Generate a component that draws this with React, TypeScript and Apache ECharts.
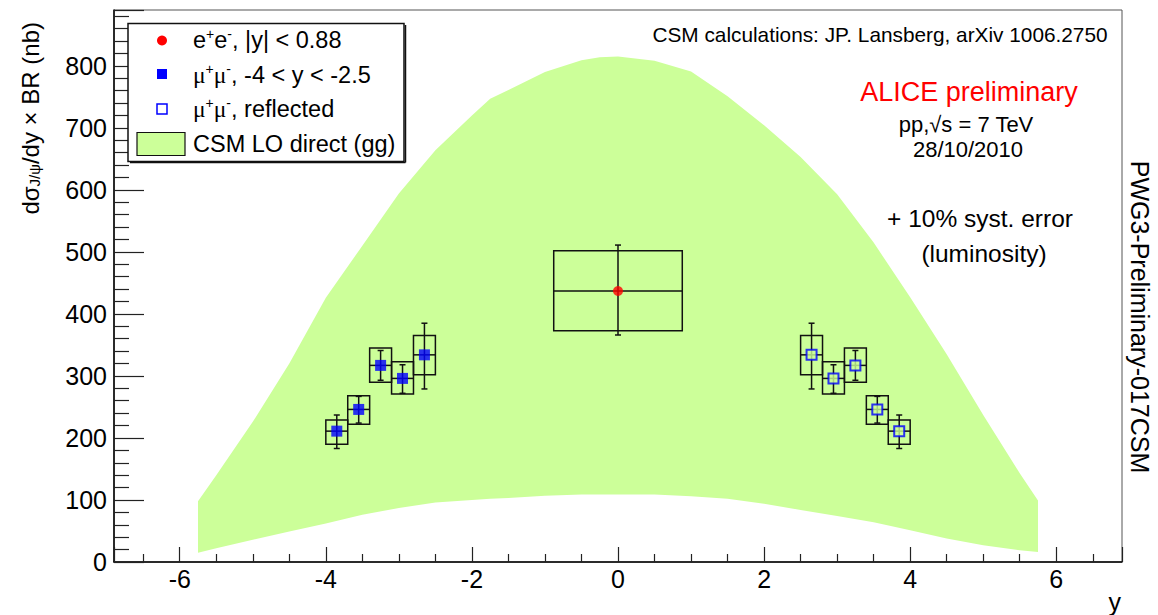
import React, { useEffect, useRef } from 'react';
import * as echarts from 'echarts';

// CSM LO direct (gg) band
const bandX = [-5.75, -5.5, -5.0, -4.5, -4.0, -3.5, -3.0, -2.5, -2.0, -1.75, -1.5, -1.0, -0.5, -0.25, 0, 0.5, 1.0, 1.5, 2.0, 2.5, 3.0, 3.5, 4.0, 4.5, 5.0, 5.5, 5.75];
const bandUpper = [98, 140, 226, 320, 426, 510, 594, 664, 720, 747, 761, 790, 809, 814, 815, 808, 791, 751, 704, 653, 593, 515, 427, 335, 237, 143, 99];
const bandLower = [15, 22, 36, 49, 62, 76, 87, 96, 100, 102, 103, 107, 109, 109, 109, 109, 106, 102, 94, 84, 74, 64, 51, 38, 27, 19, 16];

// e+e- |y|<0.88
const eeY = [0];
const eeHalfWidth = [0.88];
const eeValue = [437];
const eeStatLow = [366];
const eeStatHigh = [511];
const eeSystLow = [373];
const eeSystHigh = [502];

// mu+mu- -4<y<-2.5
const muY = [-3.85, -3.55, -3.25, -2.95, -2.65];
const muHalfWidth = [0.15, 0.15, 0.15, 0.15, 0.15];
const muValue = [211, 246, 317, 296, 334];
const muStatLow = [183, 224, 293, 272, 279];
const muStatHigh = [237, 267, 341, 318, 385];
const muSystLow = [190, 222, 290, 271, 302];
const muSystHigh = [229, 268, 345, 323, 365];

// reflected
const reflY = [3.85, 3.55, 3.25, 2.95, 2.65];

const GREEN = '#ccff99';
const FONT = '"Liberation Sans", Arial, Helvetica, sans-serif';

const rows = (xs: number[], hw: number[], v: number[], sl: number[], sh: number[], yl: number[], yh: number[]) =>
  xs.map((x, i) => [x, v[i], hw[i], sl[i], sh[i], yl[i], yh[i]]);

export default function App() {
  const ref = useRef<HTMLDivElement>(null);
  useEffect(() => {
    if (!ref.current) return;
    const chart = echarts.init(ref.current, undefined, { renderer: 'svg' });

    const renderErr = (params: any, api: any) => {
      const x = api.value(0), v = api.value(1), hw = api.value(2);
      const sl = api.value(3), sh = api.value(4), yl = api.value(5), yh = api.value(6);
      const tl = api.coord([x - hw, yh]);
      const br = api.coord([x + hw, yl]);
      const c = api.coord([x, v]);
      const st = api.coord([x, sh]);
      const sb = api.coord([x, sl]);
      const ls = { stroke: '#111', lineWidth: 1.5 };
      return {
        type: 'group',
        children: [
          { type: 'rect', shape: { x: tl[0], y: tl[1], width: br[0] - tl[0], height: br[1] - tl[1] }, style: { stroke: '#111', fill: 'none', lineWidth: 1.5 } },
          { type: 'line', shape: { x1: tl[0], y1: c[1], x2: br[0], y2: c[1] }, style: ls },
          { type: 'line', shape: { x1: c[0], y1: st[1], x2: c[0], y2: sb[1] }, style: ls },
          { type: 'line', shape: { x1: c[0] - 3, y1: st[1], x2: c[0] + 3, y2: st[1] }, style: ls },
          { type: 'line', shape: { x1: c[0] - 3, y1: sb[1], x2: c[0] + 3, y2: sb[1] }, style: ls },
        ],
      };
    };

    const txt = (text: string, x: number, y: number, size: number, extra: any = {}) => ({
      type: 'text', x, y, z: 100,
      style: { text, fontSize: size, fontFamily: FONT, fill: '#000', align: 'center', verticalAlign: 'middle', ...extra },
    });

    const supRich = {
      m: { fontSize: 23.5, fontFamily: FONT, fill: '#000', lineHeight: 27, verticalAlign: 'middle' },
      g: { fontSize: 23.5, fontFamily: '"Liberation Serif", "DejaVu Serif", serif', fill: '#000', lineHeight: 27, verticalAlign: 'middle' },
      p: { fontSize: 14, fontFamily: FONT, fill: '#000', lineHeight: 14, verticalAlign: 'top' },
    };

    const legendText = (text: string, y: number) => ({
      type: 'text', x: 193, y, z: 100,
      style: { text, rich: supRich, align: 'left', verticalAlign: 'middle', fontSize: 23.5, fontFamily: FONT, fill: '#000' },
    });

    const option: any = {
      animation: false,
      grid: { left: 114, right: 36, top: 10, bottom: 53, show: true, borderColor: '#555', borderWidth: 1 },
      xAxis: {
        type: 'value', min: -6.9, max: 6.9, splitNumber: 7, minInterval: 2, maxInterval: 2,
        axisLine: { show: true, onZero: false, lineStyle: { color: '#000', width: 1.5 } },
        axisTick: { show: true, inside: true, length: 15, lineStyle: { color: '#222', width: 1.2 } },
        minorTick: { show: true, splitNumber: 4, length: 8, lineStyle: { color: '#222', width: 1.2 } },
        splitLine: { show: false },
        axisLabel: {
          fontSize: 25, fontFamily: FONT, color: '#000', margin: 4,
          formatter: (v: number) => (Math.abs(v - Math.round(v)) < 1e-6 && Math.round(v) % 2 === 0 ? String(Math.round(v)) : ''),
        },
      },
      yAxis: {
        type: 'value', min: 0, max: 890, interval: 100,
        axisLine: { show: true, onZero: false, lineStyle: { color: '#000', width: 1.5 } },
        axisTick: { show: true, inside: true, length: 30, lineStyle: { color: '#222', width: 1.2 } },
        minorTick: { show: true, splitNumber: 5, length: 15, lineStyle: { color: '#222', width: 1.2 } },
        splitLine: { show: false },
        axisLabel: {
          fontSize: 25, fontFamily: FONT, color: '#000', margin: 7,
          formatter: (v: number) => (v % 100 === 0 ? String(v) : ''),
        },
      },
      series: [
        {
          name: 'CSM LO direct (gg)', type: 'custom', z: 1, clip: true,
          data: [[0, 400]],
          renderItem: (params: any, api: any) => {
            if (params.dataIndex !== 0) return null;
            const pts: number[][] = [];
            for (let i = 0; i < bandX.length; i++) pts.push(api.coord([bandX[i], bandUpper[i]]));
            for (let i = bandX.length - 1; i >= 0; i--) pts.push(api.coord([bandX[i], bandLower[i]]));
            return { type: 'polygon', shape: { points: pts }, style: { fill: GREEN, stroke: 'none' } };
          },
        },
        {
          name: 'ee errors', type: 'custom', z: 2, clip: true, encode: { x: 0, y: 1 },
          data: rows(eeY, eeHalfWidth, eeValue, eeStatLow, eeStatHigh, eeSystLow, eeSystHigh),
          renderItem: renderErr,
        },
        {
          name: 'mumu errors', type: 'custom', z: 2, clip: true, encode: { x: 0, y: 1 },
          data: rows(muY, muHalfWidth, muValue, muStatLow, muStatHigh, muSystLow, muSystHigh),
          renderItem: renderErr,
        },
        {
          name: 'reflected errors', type: 'custom', z: 2, clip: true, encode: { x: 0, y: 1 },
          data: rows(reflY, muHalfWidth, muValue, muStatLow, muStatHigh, muSystLow, muSystHigh),
          renderItem: renderErr,
        },
        {
          name: 'e+e-, |y| < 0.88', type: 'scatter', z: 3, symbol: 'circle', symbolSize: 10,
          itemStyle: { color: '#ff0000' },
          data: eeY.map((x, i) => [x, eeValue[i]]),
        },
        {
          name: 'mu+mu-, -4 < y < -2.5', type: 'scatter', z: 3, symbol: 'rect', symbolSize: 11,
          itemStyle: { color: '#0000ff' },
          data: muY.map((x, i) => [x, muValue[i]]),
        },
        {
          name: 'mu+mu-, reflected', type: 'scatter', z: 3, symbol: 'rect', symbolSize: 10,
          itemStyle: { color: GREEN, borderColor: '#0000ff', borderWidth: 2 },
          data: reflY.map((x, i) => [x, muValue[i]]),
        },
      ],
      graphic: [
        // legend
        { type: 'rect', z: 90, shape: { x: 128, y: 23.5, width: 276, height: 138 }, style: { fill: '#fff', stroke: '#111', lineWidth: 1.5 } },
        { type: 'line', z: 90, shape: { x1: 405.5, y1: 25, x2: 405.5, y2: 162.5 }, style: { stroke: '#111', lineWidth: 1.5 } },
        { type: 'line', z: 90, shape: { x1: 130, y1: 162.5, x2: 405.5, y2: 162.5 }, style: { stroke: '#111', lineWidth: 1.5 } },
        { type: 'circle', z: 100, shape: { cx: 162, cy: 40.5, r: 5 }, style: { fill: '#ff0000' } },
        { type: 'rect', z: 100, shape: { x: 157, y: 69, width: 10, height: 10 }, style: { fill: '#0000ff' } },
        { type: 'rect', z: 100, shape: { x: 157, y: 104, width: 10, height: 10 }, style: { fill: '#fff', stroke: '#0000ff', lineWidth: 1.5 } },
        { type: 'rect', z: 100, shape: { x: 137, y: 132.5, width: 48, height: 23 }, style: { fill: GREEN, stroke: '#111', lineWidth: 1.2 } },
        legendText('{m|e}{p|+}{m|e}{p|-}{m|, |y| < 0.88}', 40),
        legendText('{g|μ}{p|+}{g|μ}{p|-}{m|, -4 < y < -2.5}', 75),
        legendText('{g|μ}{p|+}{g|μ}{p|-}{m|, reflected}', 109),
        legendText('{m|CSM LO direct (gg)}', 144),
        // annotations
        txt('CSM calculations: JP. Lansberg, arXiv 1006.2750', 880, 34, 20.8),
        txt('ALICE preliminary', 969, 92, 27, { fill: '#ff0000' }),
        txt('pp,√s = 7 TeV', 966, 124, 22),
        txt('28/10/2010', 968, 149, 22),
        txt('+ 10% syst. error', 980, 218, 24.5),
        txt('(luminosity)', 984, 253, 24.5),
        { type: 'text', x: 1140, y: 317, z: 100, rotation: -Math.PI / 2,
          style: { text: 'PWG3-Preliminary-017CSM', fontSize: 25, fontFamily: FONT, fill: '#000', align: 'center', verticalAlign: 'middle' } },
        // axis titles
        { type: 'text', x: 1121, y: 602, z: 100,
          style: { text: 'y', fontSize: 25, fontFamily: FONT, fill: '#000', align: 'right', verticalAlign: 'middle' } },
        { type: 'text', x: 27, y: 22, z: 100, rotation: Math.PI / 2,
          style: {
            text: '{m|dσ}{s|J/ψ}{m|/dy × BR (nb)}', align: 'right', verticalAlign: 'middle',
            rich: {
              m: { fontSize: 24, fontFamily: FONT, fill: '#000', lineHeight: 30, verticalAlign: 'bottom' },
              s: { fontSize: 15, fontFamily: FONT, fill: '#000', lineHeight: 14, verticalAlign: 'bottom' },
            },
          } },
      ],
    };

    chart.setOption(option);
    return () => chart.dispose();
  }, []);

  return <div ref={ref} style={{ position: 'absolute', left: 0, top: 0, width: 1158, height: 615, background: '#fff' }} />;
}
